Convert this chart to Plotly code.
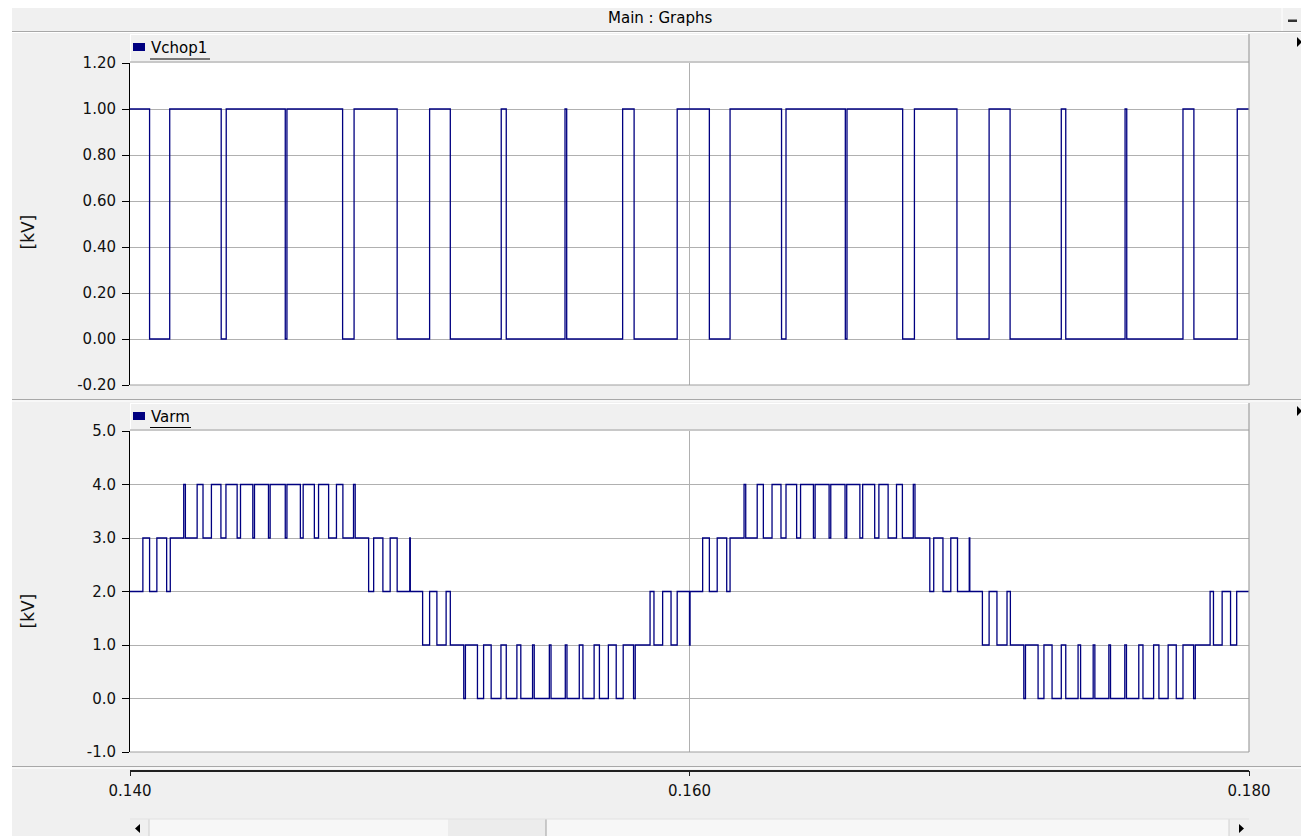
import numpy as np
import plotly.graph_objects as go

# page body has an 8px margin, so the figure is placed at screen (8, 8)
OFF = 8
SW, SH = 1309, 836
W, H = SW - OFF, SH - OFF
NAVY = "#000080"
GRID = "#B0B0B0"
FONT = "DejaVu Sans"

# ---------------- data ----------------
# Vchop1 : switching instants [ms] and level after each instant [kV]
vchop_t_ms = [140.00, 140.70, 141.42, 143.26, 143.44, 145.55, 145.61, 147.60, 148.01,
              149.55, 150.71, 151.45, 153.27, 153.45, 155.55, 155.61, 157.61, 158.02,
              159.56, 160.71, 161.45, 163.29, 163.45, 165.57, 165.63, 167.62, 168.04,
              169.56, 170.71, 171.46, 173.29, 173.45, 175.57, 175.63, 177.64, 178.03,
              179.58, 180.00]
vchop_kv = [1, 0, 1, 0, 1, 0, 1, 0, 1,
            0, 1, 0, 1, 0, 1, 0, 1, 0,
            1, 0, 1, 0, 1, 0, 1, 0, 1,
            0, 1, 0, 1, 0, 1, 0, 1, 0,
            1, 1]

# Varm : switching instants [ms] and level after each instant [kV]
varm_t_ms = [140.00, 140.46, 140.70, 140.96, 141.31, 141.44, 141.92, 141.98, 142.40, 142.61,
             142.91, 143.25, 143.43, 143.83, 143.95, 144.39, 144.45, 144.95, 145.01, 145.55,
             145.61, 146.09, 146.19, 146.59, 146.74, 147.10, 147.38, 147.61, 147.99, 148.05,
             148.53, 148.71, 149.04, 149.30, 149.55, 150.00, 150.02, 150.46, 150.71, 150.97,
             151.30, 151.45, 151.93, 151.99, 152.42, 152.64, 152.91, 153.26, 153.45, 153.83,
             153.97, 154.39, 154.45, 154.99, 155.05, 155.56, 155.62, 156.06, 156.19, 156.59,
             156.78, 157.10, 157.38, 157.63, 158.00, 158.06, 158.59, 158.73, 159.04, 159.34,
             159.56, 160.00, 160.02, 160.47, 160.71, 160.99, 161.33, 161.45, 161.95, 162.01,
             162.42, 162.64, 162.95, 163.27, 163.45, 163.83, 163.97, 164.43, 164.49, 164.99,
             165.05, 165.56, 165.62, 166.09, 166.19, 166.62, 166.77, 167.10, 167.40, 167.61,
             168.00, 168.06, 168.59, 168.73, 169.06, 169.34, 169.58, 170.00, 170.02, 170.47,
             170.71, 170.99, 171.35, 171.47, 171.95, 172.01, 172.46, 172.67, 172.96, 173.29,
             173.45, 173.89, 173.98, 174.43, 174.49, 174.99, 175.05, 175.56, 175.62, 176.06,
             176.21, 176.59, 176.78, 177.11, 177.40, 177.64, 178.02, 178.08, 178.61, 178.73,
             179.04, 179.34, 179.56, 180.00]
varm_kv = [2, 3, 2, 3, 2, 3, 4, 3, 4, 3,
           4, 3, 4, 3, 4, 3, 4, 3, 4, 3,
           4, 3, 4, 3, 4, 3, 4, 3, 4, 3,
           2, 3, 2, 3, 2, 3, 2, 1, 2, 1,
           2, 1, 0, 1, 0, 1, 0, 1, 0, 1,
           0, 1, 0, 1, 0, 1, 0, 1, 0, 1,
           0, 1, 0, 1, 0, 1, 2, 1, 2, 1,
           2, 1, 2, 3, 2, 3, 2, 3, 4, 3,
           4, 3, 4, 3, 4, 3, 4, 3, 4, 3,
           4, 3, 4, 3, 4, 3, 4, 3, 4, 3,
           4, 3, 2, 3, 2, 3, 2, 3, 2, 1,
           2, 1, 2, 1, 0, 1, 0, 1, 0, 1,
           0, 1, 0, 1, 0, 1, 0, 1, 0, 1,
           0, 1, 0, 1, 0, 1, 0, 1, 2, 1,
           2, 1, 2, 2]

x_ticks = [0.140, 0.160, 0.180]
x_tick_text = ["0.140", "0.160", "0.180"]
y1_ticks = [-0.2, 0.0, 0.2, 0.4, 0.6, 0.8, 1.0, 1.2]
y1_tick_text = ["-0.20", "0.00", "0.20", "0.40", "0.60", "0.80", "1.00", "1.20"]
y2_ticks = [-1.0, 0.0, 1.0, 2.0, 3.0, 4.0, 5.0]
y2_tick_text = ["-1.0", "0.0", "1.0", "2.0", "3.0", "4.0", "5.0"]
titles = ["Vchop1", "Varm"]
main_title = "Main : Graphs"
y_unit = "[kV]"

# ---------------- screen-pixel helpers ----------------
def px(x):
    return (x - OFF) / W

def py(y):
    return 1 - (y - OFF) / H

XL, XR = 130, 1249
TOP1, BOT1 = 63, 385
TOP2, BOT2 = 431, 752

fig = go.Figure()
fig.add_trace(go.Scatter(x=np.array(vchop_t_ms) / 1000.0, y=vchop_kv, mode="lines",
                         line=dict(shape="hv", color=NAVY, width=1.3),
                         xaxis="x", yaxis="y", hoverinfo="skip", showlegend=False))
fig.add_trace(go.Scatter(x=np.array(varm_t_ms) / 1000.0, y=varm_kv, mode="lines",
                         line=dict(shape="hv", color=NAVY, width=1.3),
                         xaxis="x2", yaxis="y2", hoverinfo="skip", showlegend=False))
fig.add_trace(go.Scatter(x=[x_ticks[0], x_ticks[-1]], y=[0, 0], mode="lines",
                         line=dict(width=0, color="rgba(0,0,0,0)"),
                         xaxis="x3", yaxis="y3", hoverinfo="skip", showlegend=False))

tickfont = dict(family=FONT, size=15, color="#111111")
xdom = [px(XL), px(XR)]
common_x = dict(range=[x_ticks[0], x_ticks[-1]], tickvals=x_ticks, showticklabels=False,
                showgrid=True, gridcolor=GRID, gridwidth=1, zeroline=False, showline=False,
                ticks="", domain=xdom, fixedrange=True, automargin=False)
common_y = dict(showgrid=True, gridcolor=GRID, gridwidth=1, zeroline=False,
                showline=True, linecolor="#000000", linewidth=1, ticks="outside",
                ticklen=7, tickcolor="#000000", tickwidth=1, tickfont=tickfont,
                ticklabelstandoff=3, fixedrange=True, automargin=False)

fig.update_layout(
    width=W, height=H, autosize=False,
    margin=dict(l=0, r=0, t=0, b=0, pad=0, autoexpand=False),
    paper_bgcolor="#F0F0F0", plot_bgcolor="#FFFFFF",
    showlegend=False, hovermode=False,
    xaxis=dict(common_x, anchor="y"),
    yaxis=dict(common_y, domain=[py(BOT1), py(TOP1)], range=[-0.2, 1.2],
               tickvals=y1_ticks, ticktext=y1_tick_text, anchor="x"),
    xaxis2=dict(common_x, anchor="y2"),
    yaxis2=dict(common_y, domain=[py(BOT2), py(TOP2)], range=[-1.0, 5.0],
                tickvals=y2_ticks, ticktext=y2_tick_text, anchor="x2"),
    xaxis3=dict(range=[x_ticks[0], x_ticks[-1]], tickvals=x_ticks, ticktext=x_tick_text,
                domain=xdom, anchor="free", position=py(770.5), side="bottom",
                showline=True, linecolor="#202020", linewidth=1.5, ticks="outside",
                ticklen=5, tickcolor="#202020", tickwidth=1, showgrid=False,
                zeroline=False, tickfont=tickfont, ticklabelstandoff=2, fixedrange=True,
                automargin=False),
    yaxis3=dict(domain=[0.0, 0.02], visible=False, range=[-1, 1], fixedrange=True,
                automargin=False),
)

shapes = []

def hl(y, x0, x1, color, w=1, layer="above"):
    shapes.append(dict(type="line", xref="paper", yref="paper", x0=px(x0), x1=px(x1),
                       y0=py(y), y1=py(y), line=dict(color=color, width=w), layer=layer))

def vl(x, y0, y1, color, w=1, layer="above"):
    shapes.append(dict(type="line", xref="paper", yref="paper", x0=px(x), x1=px(x),
                       y0=py(y0), y1=py(y1), line=dict(color=color, width=w), layer=layer))

def rect(x0, y0, x1, y1, fill, layer="below"):
    shapes.append(dict(type="rect", xref="paper", yref="paper", x0=px(x0), x1=px(x1),
                       y0=py(y1), y1=py(y0), fillcolor=fill, line=dict(width=0),
                       layer=layer))

def tri(xa, ya, xb, yb, xc, yc, fill="#000000"):
    path = "M {} {} L {} {} L {} {} Z".format(px(xa), py(ya), px(xb), py(yb), px(xc), py(yc))
    shapes.append(dict(type="path", xref="paper", yref="paper", path=path,
                       fillcolor=fill, line=dict(width=0), layer="above"))

# outer white margin at the left
rect(OFF, OFF, 12, SH, "#FFFFFF")
# title bar separator
hl(31.5, 12, SW, "#A8A8A8", 1)
hl(32.5, 12, SW, "#FFFFFF", 1)
# minimize button
vl(1282, OFF, 31, "#FFFFFF", 1)
vl(1307.5, OFF, 31, "#A0A0A0", 1)
rect(1288, 19.5, 1297, 22, "#333333", layer="above")

# panels
for top, bot, hdr_top in [(TOP1, BOT1, 34), (TOP2, BOT2, 403)]:
    hl(hdr_top + 0.5, XL, XR, "#FFFFFF", 1)
    vl(XL + 0.5, hdr_top, top - 1, "#FFFFFF", 1)
    hl(top - 1.0, XL, XR, "#A0A0A0", 1.2)
    vl(XR, hdr_top, bot, "#A0A0A0", 1.2)
    hl(bot, XL, XR, "#A0A0A0", 1.2)
    tri(1297, hdr_top + 3, 1302, hdr_top + 8, 1297, hdr_top + 13)

# panel separators
hl(399.5, 12, SW, "#A8A8A8", 1.2)
hl(401, 12, SW, "#FFFFFF", 1)
hl(766.5, 12, SW, "#A8A8A8", 1.2)
hl(768, 12, SW, "#FFFFFF", 1)

# legend squares and underlines
for sq_top, ul_y, name_w in [(43, 59, 60), (412, 427.5, 41)]:
    rect(133, sq_top, 145, sq_top + 8, NAVY, layer="above")
    hl(ul_y, 150, 150 + name_w, "#000000", 1.2)

# scroll bar
rect(130, 819, 1249, SH, "#F7F7F7")
rect(130, 819, 149, SH, "#F0F0F0")
rect(1229, 819, 1249, SH, "#F0F0F0")
rect(448, 819, 546, SH, "#ECECEC")
vl(546, 819, SH, "#A0A0A0", 1)
vl(149, 819, SH, "#D0D0D0", 1)
vl(1229, 819, SH, "#D0D0D0", 1)
hl(819, 130, 1249, "#E2E2E2", 1)
tri(140, 824, 135, 828.5, 140, 833)
tri(1239, 824, 1244, 828.5, 1239, 833)

fig.update_layout(shapes=shapes)

ann = []
ann.append(dict(text=main_title, x=px(660), y=py(18), xref="paper", yref="paper",
                showarrow=False, xanchor="center", yanchor="middle",
                font=dict(family=FONT, size=15, color="#000000")))
for name, yc in [(titles[0], 48), (titles[1], 417)]:
    ann.append(dict(text=name, x=px(149), y=py(yc), xref="paper", yref="paper",
                    showarrow=False, xanchor="left", yanchor="middle",
                    font=dict(family=FONT, size=15, color="#000000")))
for yc in [232, 611]:
    ann.append(dict(text=y_unit, x=px(27.5), y=py(yc), xref="paper", yref="paper",
                    showarrow=False, xanchor="center", yanchor="middle", textangle=-90,
                    font=dict(family=FONT, size=17, color="#111111")))
fig.update_layout(annotations=ann)

fig.write_html("out.html", config={"displayModeBar": False})
